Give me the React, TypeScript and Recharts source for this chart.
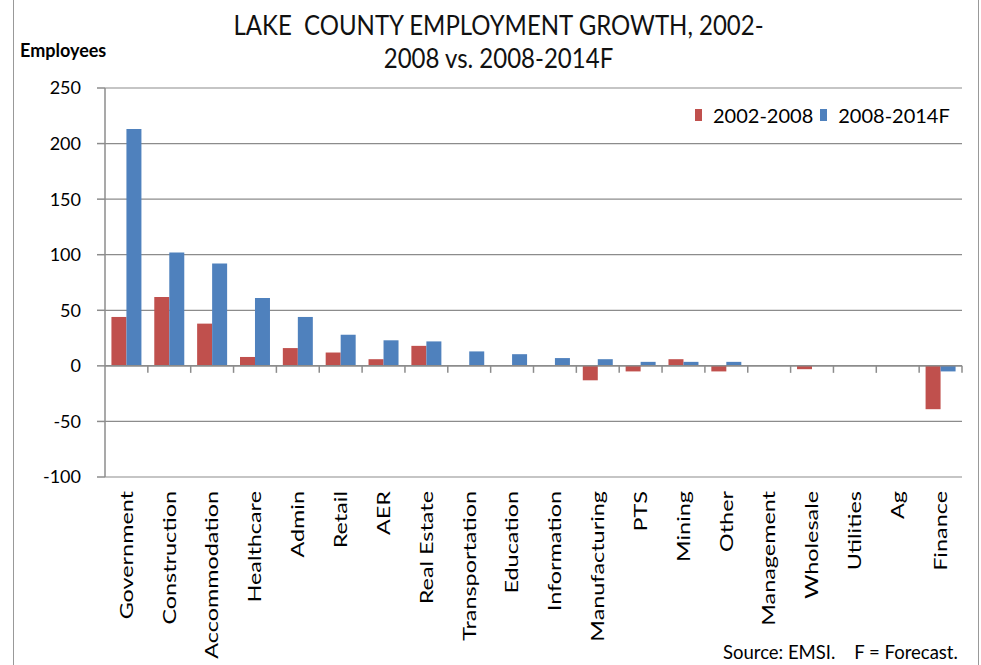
import { BarChart, Bar, XAxis, YAxis, CartesianGrid, ReferenceLine } from "recharts";

const categories = [
  "Government", "Construction", "Accommodation", "Healthcare", "Admin", "Retail", "AER",
  "Real Estate", "Transportation", "Education", "Information", "Manufacturing", "PTS",
  "Mining", "Other", "Management", "Wholesale", "Utilities", "Ag", "Finance",
];
const growth0208 = [44, 62, 38, 8, 16, 12, 6, 18, 0, 0, 0, -13, -5, 6, -5, 0, -3, 0, 0, -39];
const growth0814 = [213, 102, 92, 61, 44, 28, 23, 22, 13, 10.5, 7, 6, 3.6, 3.6, 3.6, 0, 0, 0, 0, -5];
const yTicks = [-100, -50, 0, 50, 100, 150, 200, 250];
const seriesNames = ["2002-2008", "2008-2014F"];

const FONT = "Lato, 'Open Sans', sans-serif";
const RED = "#C0504D";
const BLUE = "#4F81BD";
const GRID = "#8c8c8c";

const data = categories.map((name, i) => ({
  name,
  a: growth0208[i],
  b: growth0814[i],
}));

// the reference is stretched vertically, so the rotated labels are longer than wide
const CategoryTick = ({ x, y, payload }: any) => (
  <text
    transform={`translate(${x},${y + 12}) rotate(-90) scale(1.3,1)`}
    textAnchor="end"
    dy="0.35em"
    fontSize={18}
    fontFamily={FONT}
    fill="#000"
  >
    {payload.value}
  </text>
);

const ZeroAxis = (props: any) => {
  const { x1, y1, x2 } = props;
  const step = (x2 - x1) / categories.length;
  return (
    <g>
      <line x1={x1} y1={y1} x2={x2} y2={y1} stroke={GRID} strokeWidth={1.5} />
      {categories.map((_, i) => (
        <line key={i} x1={x1 + step * (i + 1)} y1={y1} x2={x1 + step * (i + 1)} y2={y1 + 7} stroke={GRID} strokeWidth={1.5} />
      ))}
    </g>
  );
};

export default function App() {
  return (
    <div style={{ position: "absolute", left: 0, top: 0, width: 981, height: 665, background: "#fff", fontFamily: FONT }}>
      <div style={{ position: "absolute", left: 13, top: 0, width: 964, height: 665, borderLeft: "1.5px solid #999", borderRight: "1.5px solid #999" }} />
      <div style={{ position: "absolute", left: 0, width: 981, top: 12, textAlign: "center", fontSize: 24, lineHeight: "30px", color: "#111", paddingLeft: 8, transform: "scaleY(1.1)" }}>
        LAKE&nbsp; COUNTY EMPLOYMENT GROWTH, 2002-
        <br />
        2008 vs. 2008-2014F
      </div>
      <div style={{ position: "absolute", left: 20, top: 39, fontSize: 18, fontWeight: 700, color: "#000" }}>Employees</div>
      <div style={{ position: "absolute", left: 723, top: 641, fontSize: 18.5, color: "#000", whiteSpace: "pre" }}>
        {"Source: EMSI.    F = Forecast."}
      </div>
      <div style={{ position: "absolute", left: 695, top: 103, display: "flex", alignItems: "center", fontSize: 20, color: "#000", whiteSpace: "pre" }}>
        <span style={{ display: "inline-block", width: 7, height: 12, background: RED, marginRight: 11 }} />
        <span>{seriesNames[0]}</span>
        <span style={{ display: "inline-block", width: 7, height: 12, background: BLUE, marginLeft: 7, marginRight: 11 }} />
        <span>{seriesNames[1]}</span>
      </div>
      <BarChart
        width={981}
        height={665}
        data={data}
        margin={{ top: 88, right: 19, bottom: 0, left: 0 }}
        barCategoryGap="15%"
        barGap={0}
      >
        <CartesianGrid vertical={false} stroke={GRID} strokeWidth={1.2} />
        <XAxis
          dataKey="name"
          interval={0}
          axisLine={false}
          tickLine={false}
          tickSize={0}
          height={188}
          tick={<CategoryTick />}
        />
        <YAxis
          width={105}
          domain={[-100, 250]}
          ticks={yTicks}
          interval={0}
          axisLine={{ stroke: GRID, strokeWidth: 1.5 }}
          tickLine={{ stroke: GRID, strokeWidth: 1.5 }}
          tickSize={8}
          tickMargin={16}
          tick={{ fontSize: 18, fill: "#000", fontFamily: FONT }}
        />
        <ReferenceLine y={0} shape={<ZeroAxis />} ifOverflow="visible" />
        <Bar dataKey="a" name={seriesNames[0]} fill={RED} isAnimationActive={false} />
        <Bar dataKey="b" name={seriesNames[1]} fill={BLUE} isAnimationActive={false} />
      </BarChart>
    </div>
  );
}
